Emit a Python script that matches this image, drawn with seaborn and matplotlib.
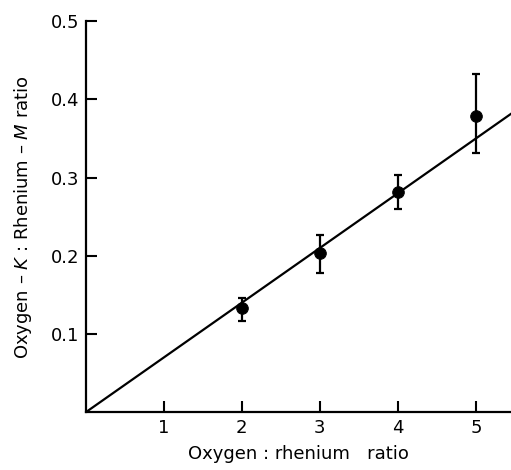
import matplotlib
matplotlib.use("Agg")
import matplotlib.pyplot as plt
import seaborn as sns

# ratio oxigeno:renio y razon de intensidades medida
ratio = [2, 3, 4, 5]
intensity = [0.133, 0.203, 0.281, 0.379]
err_low = [0.117, 0.178, 0.260, 0.332]
err_high = [0.146, 0.226, 0.303, 0.433]

# recta ajustada
fit_x = [0, 5.6]
fit_y = [0, 0.392]

x_ticks = [1, 2, 3, 4, 5]
y_ticks = [0.1, 0.2, 0.3, 0.4, 0.5]

sns.set_style("white")
plt.rcParams['font.family'] = ['DejaVu Sans']
plt.rcParams['text.color'] = 'black'
plt.rcParams['axes.labelcolor'] = 'black'
plt.rcParams['xtick.color'] = 'black'
plt.rcParams['ytick.color'] = 'black'

fig = plt.figure(figsize=(5.11, 4.70), dpi=100)
ax = fig.add_axes([0.168, 0.123, 0.832, 0.832])

sns.lineplot(x=fit_x, y=fit_y, ax=ax, color='black', linewidth=1.6)
yerr = [[v - lo for v, lo in zip(intensity, err_low)],
        [hi - v for v, hi in zip(intensity, err_high)]]
ax.errorbar(ratio, intensity, yerr=yerr, fmt='none', ecolor='black',
            elinewidth=1.6, capsize=3, capthick=1.6)
sns.scatterplot(x=ratio, y=intensity, ax=ax, color='black', s=70,
                edgecolor='black', zorder=5)

ax.set_xlim(0, 5.45)
ax.set_ylim(0, 0.5)
ax.set_xticks(x_ticks)
ax.set_yticks(y_ticks)
ax.set_xticklabels([str(t) for t in x_ticks])
ax.set_yticklabels([f"{t:.1f}" for t in y_ticks])
ax.tick_params(direction='in', length=8, width=1.5, labelsize=13,
               color='black', labelcolor='black', bottom=True, left=True)
ax.tick_params(axis='x', pad=5)
ax.tick_params(axis='y', pad=5)

for side in ['top', 'right']:
    ax.spines[side].set_visible(False)
for side in ['left', 'bottom']:
    ax.spines[side].set_color('black')
    ax.spines[side].set_linewidth(1.6)

ax.set_xlabel("Oxygen : rhenium   ratio", fontsize=13, labelpad=6)
ax.set_ylabel(r"Oxygen – $K$ : Rhenium – $M$ ratio", fontsize=13, labelpad=12)

fig.savefig("out.png", dpi=100)
